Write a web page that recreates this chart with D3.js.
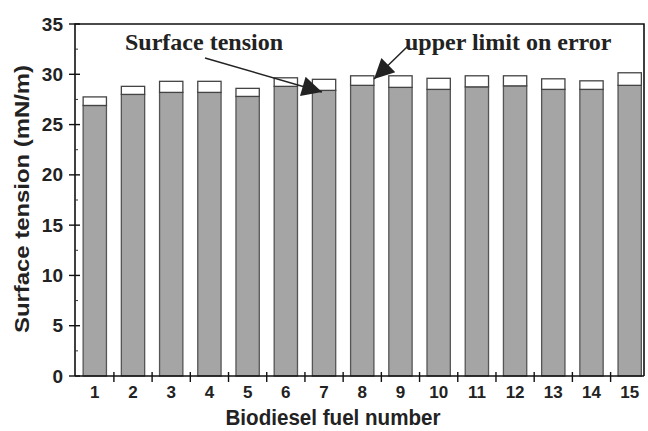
<!DOCTYPE html>
<html>
<head>
<meta charset="utf-8">
<script src="https://cdn.jsdelivr.net/npm/d3@7"></script>
<style>
  html, body { margin: 0; padding: 0; background: #fff; }
  svg { display: block; }
</style>
</head>
<body>
<svg id="chart" width="648" height="431"></svg>
<script>
const fuels = ["1","2","3","4","5","6","7","8","9","10","11","12","13","14","15"];
const surfaceTension = [26.9, 28.0, 28.2, 28.2, 27.8, 28.8, 28.4, 28.9, 28.7, 28.5, 28.75, 28.85, 28.5, 28.5, 28.9];
const upperLimit = [27.75, 28.8, 29.3, 29.3, 28.6, 29.65, 29.5, 29.85, 29.85, 29.6, 29.85, 29.85, 29.55, 29.35, 30.15];
const yTicks = [0, 5, 10, 15, 20, 25, 30, 35];

(function () {
const svg = d3.select("#chart");
const mLeft = 75, mRight = 644, mTop = 24, mBottom = 376;

const x = d3.scaleBand().domain(fuels).range([mLeft + 0.5, 649]).paddingInner(0.39).paddingOuter(0.2);
const y = d3.scaleLinear().domain([0, 35]).range([mBottom, mTop]);

const sans = "'Liberation Sans', Arial, sans-serif";
const serif = "'Liberation Serif', 'Times New Roman', serif";

// bars: gray part
const g = svg.append("g");
g.selectAll("rect.val").data(fuels).join("rect")
  .attr("class", "val")
  .attr("x", d => x(d))
  .attr("y", (d, i) => y(surfaceTension[i]))
  .attr("width", x.bandwidth())
  .attr("height", (d, i) => y(0) - y(surfaceTension[i]))
  .attr("fill", "#a5a5a5")
  .attr("stroke", "#555")
  .attr("stroke-width", 1.3);
// white error part
g.selectAll("rect.err").data(fuels).join("rect")
  .attr("class", "err")
  .attr("x", d => x(d))
  .attr("y", (d, i) => y(upperLimit[i]))
  .attr("width", x.bandwidth())
  .attr("height", (d, i) => y(surfaceTension[i]) - y(upperLimit[i]))
  .attr("fill", "#fff")
  .attr("stroke", "#444")
  .attr("stroke-width", 1.3);

// frame
svg.append("path")
  .attr("d", `M${mLeft},${mBottom}V${mTop}H${mRight}V${mBottom}`)
  .attr("fill", "none").attr("stroke", "#111").attr("stroke-width", 1.6);

// y axis
const yAxis = d3.axisLeft(y).tickValues(yTicks).tickSize(0).tickPadding(12).tickFormat(d3.format("d"));
const ya = svg.append("g").attr("transform", `translate(${mLeft},0)`).call(yAxis);
ya.select(".domain").remove();
ya.selectAll("text").attr("font-family", sans).attr("font-weight", "bold").attr("font-size", 19).attr("fill", "#222");
svg.append("g").selectAll("line").data(yTicks).join("line")
  .attr("x1", mLeft - 6).attr("x2", mLeft + 5)
  .attr("y1", d => y(d)).attr("y2", d => y(d))
  .attr("stroke", "#111").attr("stroke-width", 1.4);
svg.append("g").selectAll("line").data(yTicks.slice(0, -1).map(d => d + 2.5)).join("line")
  .attr("x1", mLeft).attr("x2", mLeft + 3)
  .attr("y1", d => y(d)).attr("y2", d => y(d))
  .attr("stroke", "#333").attr("stroke-width", 1);

// x axis
const xAxis = d3.axisBottom(x).tickSize(0).tickPadding(10);
const xa = svg.append("g").attr("transform", `translate(0,${mBottom})`).call(xAxis);
xa.select(".domain").attr("stroke", "#111").attr("stroke-width", 1.6)
  .attr("d", `M${mLeft},0H${mRight}`);
xa.selectAll("text").attr("font-family", sans).attr("font-weight", "bold").attr("font-size", 17).attr("fill", "#222");
const step = x.step();
const bounds = fuels.slice(0, -1).map(d => x(d) + x.bandwidth() + step * x.paddingInner() / 2);
svg.append("g").selectAll("line").data(bounds).join("line")
  .attr("x1", d => d).attr("x2", d => d)
  .attr("y1", mBottom - 4).attr("y2", mBottom + 6)
  .attr("stroke", "#111").attr("stroke-width", 1.4);

// axis titles
svg.append("text")
  .attr("transform", `translate(29,199) rotate(-90)`)
  .attr("text-anchor", "middle")
  .attr("font-family", sans).attr("font-weight", "bold").attr("font-size", 21).attr("fill", "#222")
  .attr("textLength", 268).attr("lengthAdjust", "spacingAndGlyphs")
  .text("Surface tension (mN/m)");
svg.append("text")
  .attr("x", 333).attr("y", 425)
  .attr("text-anchor", "middle")
  .attr("font-family", sans).attr("font-weight", "bold").attr("font-size", 22).attr("fill", "#222")
  .attr("textLength", 215).attr("lengthAdjust", "spacingAndGlyphs")
  .text("Biodiesel fuel number");

// annotations
svg.append("text").attr("x", 125).attr("y", 50)
  .attr("font-family", serif).attr("font-weight", "bold").attr("font-size", 24).attr("fill", "#222")
  .text("Surface tension");
svg.append("text").attr("x", 405).attr("y", 50)
  .attr("font-family", serif).attr("font-weight", "bold").attr("font-size", 24).attr("fill", "#222")
  .text("upper limit on error");

const defs = svg.append("defs");
defs.append("marker").attr("id", "ah")
  .attr("viewBox", "0 0 10 10").attr("refX", 10).attr("refY", 5)
  .attr("markerWidth", 28).attr("markerHeight", 20).attr("markerUnits", "userSpaceOnUse")
  .attr("orient", "auto")
  .append("path").attr("d", "M0,0L10,5L0,10Z").attr("fill", "#222");

svg.append("line").attr("x1", 205).attr("y1", 58).attr("x2", 322).attr("y2", 92)
  .attr("stroke", "#222").attr("stroke-width", 1.5).attr("marker-end", "url(#ah)");
svg.append("line").attr("x1", 408).attr("y1", 46).attr("x2", 374).attr("y2", 79)
  .attr("stroke", "#222").attr("stroke-width", 1.5).attr("marker-end", "url(#ah)");
})();
</script>
</body>
</html>
